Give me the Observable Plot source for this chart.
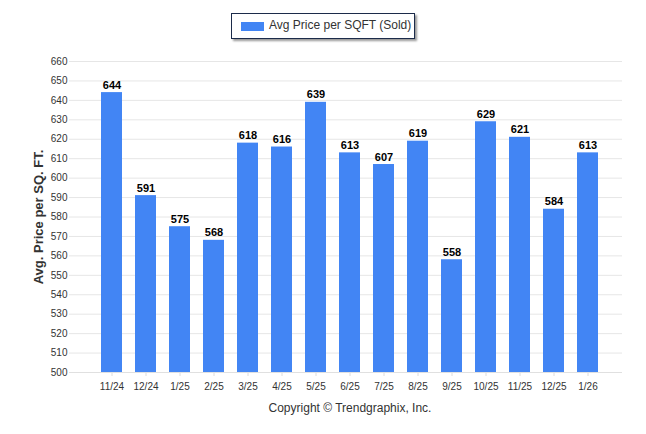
<!DOCTYPE html>
<html><head><meta charset="utf-8">
<script src="https://cdn.jsdelivr.net/npm/d3@7"></script>
<script src="https://cdn.jsdelivr.net/npm/@observablehq/plot@0.6"></script>
<style>
body{margin:0;background:#fff;font-family:"Liberation Sans",Arial,sans-serif;}
#wrap{position:relative;width:646px;height:434px;}
#legend{position:absolute;left:231px;top:13px;width:182px;height:24px;border:1px solid #1c2b4a;box-shadow:2px 2px 2px #999;background:#fff;font-size:12px;color:#333;}
#legend .sw{position:absolute;left:9px;top:8px;width:23px;height:9px;background:#4285f4;}
#legend .tx{position:absolute;left:37px;top:4px;white-space:nowrap;}
#caption{position:absolute;left:0;width:700px;top:401px;text-align:center;font-size:12px;color:#333;}
#chart{position:absolute;left:0;top:0;}
</style></head>
<body><div id="wrap">
<div id="chart"></div>
<div id="legend"><div class="sw"></div><div class="tx">Avg Price per SQFT (Sold)</div></div>
<div id="caption">Copyright © Trendgraphix, Inc.</div>
</div>
<script>
const months = ["11/24","12/24","1/25","2/25","3/25","4/25","5/25","6/25","7/25","8/25","9/25","10/25","11/25","12/25","1/26"];
const values = [644,591,575,568,618,616,639,613,607,619,558,629,621,584,613];
const yTicks = d3.range(500, 661, 10);
const data = months.map((m,i)=>({month:m, value:values[i]}));

const chart = Plot.plot({
  width: 646, height: 434,
  marginLeft: 69, marginRight: 24, marginTop: 61, marginBottom: 62,
  style: {fontFamily: "'Liberation Sans', Arial, sans-serif", fontSize: "10px", color: "#333"},
  x: {domain: months, range: [100.5, 599], paddingInner: 0.38, paddingOuter: 0, label: null},
  y: {domain: [500, 660], ticks: yTicks, label: null},
  marks: [
    Plot.gridY(yTicks, {stroke: "#e6e6e6", strokeOpacity: 1}),
    Plot.axisY({ticks: yTicks, tickSize: 0, tickPadding: 2, label: null, fontSize: 10, fill: "#333"}),
    Plot.barY(data, {x: "month", y1: 500, y2: "value", fill: "#4285f4"}),
    Plot.axisX({tickSize: 4, tickPadding: 6, stroke: "#dcdcdc", strokeOpacity: 1, fill: "#333", fontSize: 10, label: null}),
    Plot.ruleY([500], {stroke: "#e0e0e0"}),
    Plot.text(data, {x: "month", y: "value", text: d => String(d.value), dy: -4, lineAnchor: "bottom", fontWeight: "bold", fontSize: 11, fill: "#000"}),
    Plot.text(["Avg. Price per SQ. FT."], {frameAnchor: "left", dx: -31, rotate: -90, fontWeight: "bold", fontSize: 13, fill: "#333", textAnchor: "middle"})
  ]
});
document.getElementById("chart").appendChild(chart);
</script>
</body></html>
